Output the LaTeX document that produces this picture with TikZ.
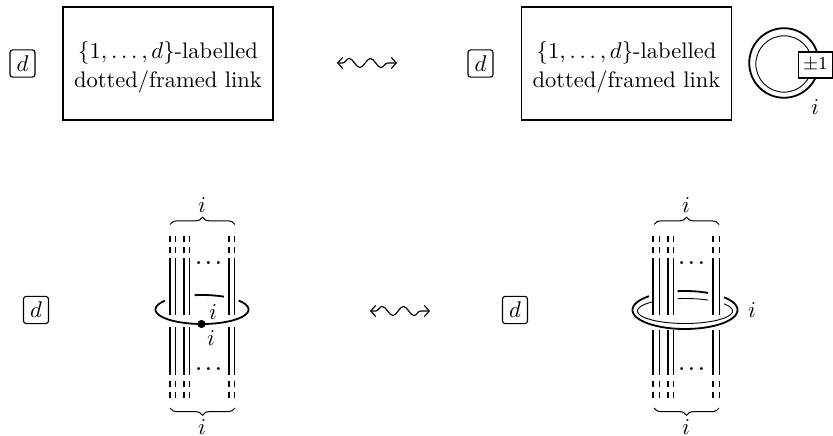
\documentclass[tikz,border=0pt]{standalone}
\usetikzlibrary{decorations.pathmorphing,decorations.pathreplacing,calc,arrows.meta}
\tikzset{
  x=0.44pt,y=-0.44pt,
  tag/.style={draw,rounded corners=1.2pt,line width=0.5pt,minimum width=11pt,minimum height=12pt,inner sep=0pt},
  bigbox/.style={draw,line width=0.8pt,minimum width=92.4pt,minimum height=49.7pt,inner sep=0pt},
  boxtext/.style={align=center,inner sep=0pt,font=\fontsize{9.9}{12.8}\selectfont},
  sign/.style={draw,fill=white,line width=0.5pt,minimum width=14.6pt,minimum height=11.4pt,inner sep=0pt,font=\footnotesize},
  thk/.style={line width=0.8pt},
  thn/.style={line width=0.4pt},
  squig/.style={{Straight Barb[length=2.2pt,width=5pt]}-{Straight Barb[length=2.2pt,width=5pt]},decorate,line width=0.5pt,decoration={snake,amplitude=2pt,segment length=9.3pt,pre length=2.5pt,post length=2.5pt}},
  brc/.style={line width=0.45pt,decorate,decoration={brace,amplitude=3.2pt}},
  brcm/.style={line width=0.45pt,decorate,decoration={brace,mirror,amplitude=3.2pt}},
  lab/.style={inner sep=0pt},
  dts/.style={inner sep=0pt,font=\footnotesize\boldmath}
}
\newcommand{\strand}[3]{%
  \draw[#1] (#2,258) -- (#2,315);
  \draw[#1] (#2,#3) -- (#2,375);
  \draw[#1] (#2,236) -- (#2,242) (#2,247) -- (#2,253);
  \draw[#1] (#2,381) -- (#2,387) (#2,392) -- (#2,398);
}
\begin{document}
\begin{tikzpicture}
\useasboundingbox (0,0) rectangle (833,436);
% top row
\node[tag] (d1) at (22.5,63.5) {$d$};
\node[bigbox] (b1) at (168,63.5) {};
\node[boxtext] (t1a) at (168,67) {$\{1,\ldots,d\}$-labelled\\dotted/framed link};
\coordinate (sa1) at (337,63); \coordinate (sa2) at (397,63);
\draw[squig] (sa1) -- (sa2);
\node[tag] (d2) at (480.5,63.5) {$d$};
\node[bigbox] (b2) at (626.5,63.5) {};
\node[boxtext] (t2a) at (626.5,67) {$\{1,\ldots,d\}$-labelled\\dotted/framed link};
\draw[thk] (784,63) circle[radius=15.3pt];
\draw[thn] (784,64) circle[radius=12.4pt];
\node[sign] (s) at (815.5,65) {$\pm1$};
\node[lab] (il) at (815,107) {$i$};
% bottom left
\node[tag] (d3) at (36,310) {$d$};
\foreach \a/\s in {170/thk,175.3/thn,183.7/thk,189.3/thn,229.3/thk,234.7/thn}{\strand{\s}{\a}{327}}
\draw[thk] plot[domain=-38:217,samples=80] ({202+46.5*cos(\x)},{309.5+14.5*sin(\x)});
\draw[thk] plot[domain=261:298,samples=20] ({202+46.5*cos(\x)},{309.5+14.5*sin(\x)});
\fill (201.5,324) circle[radius=1.8pt];
\node[lab] (l1) at (213,312) {$i$};
\node[lab] (l2) at (211,338) {$i$};
\node[dts] (dt1) at (208.5,263) {$\ldots$};
\node[dts] (db1) at (208.5,369) {$\ldots$};
\draw[brc] (170,224.5) -- (235,224.5);
\draw[brcm] (170,408) -- (235,408);
\node[lab] (t1) at (202,205) {$i$};
\node[lab] (u1) at (202,427) {$i$};
\coordinate (sb1) at (370,311); \coordinate (sb2) at (430,311);
\draw[squig] (sb1) -- (sb2);
% bottom right
\node[tag] (d4) at (515,310) {$d$};
\foreach \a/\s in {653.3/thk,659.7/thn,667.7/thk,673.7/thn,713.3/thk,719/thn}{\strand{\s}{\a}{330}}
\draw[thk] plot[domain=-42:226.6,samples=80] ({685+52.5*cos(\x)},{310+19*sin(\x)});
\draw[thk] plot[domain=262:296,samples=20] ({685+52.5*cos(\x)},{310+19*sin(\x)});
\draw[thn] plot[domain=-35:229,samples=80] ({685+47.5*cos(\x)},{311+12.5*sin(\x)});
\draw[thn] plot[domain=261.5:299,samples=20] ({685+47.5*cos(\x)},{311+12.5*sin(\x)});
\node[lab] (l3) at (752,310) {$i$};
\node[dts] (dt2) at (691.5,263) {$\ldots$};
\node[dts] (db2) at (691.5,369) {$\ldots$};
\draw[brc] (654,224.5) -- (719,224.5);
\draw[brcm] (654,408) -- (719,408);
\node[lab] (t2) at (686,205) {$i$};
\node[lab] (u2) at (686,427) {$i$};
\end{tikzpicture}
\end{document}
